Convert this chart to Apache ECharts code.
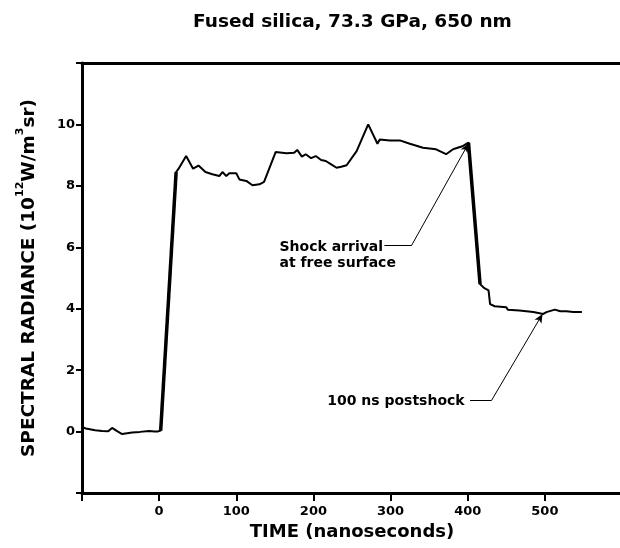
<!DOCTYPE html>
<html>
<head>
<meta charset="utf-8">
<script src="https://cdn.jsdelivr.net/npm/echarts@6/dist/echarts.min.js"></script>
<style>
html,body{margin:0;padding:0;background:#fff;}
#chart{width:620px;height:548px;}
</style>
</head>
<body>
<div id="chart"></div>
<script>
// ---- data ----
var times = [-100, -95, -83, -74, -66, -61, -55, -48, -35, -25, -13, -6, -2, 2,
  22, 25, 35, 44, 51, 60, 69, 78, 82, 87, 91, 100, 104, 113, 121, 130, 136,
  151, 165, 175, 179, 185, 190, 197, 203, 210, 216, 223, 230, 236, 243, 256,
  271, 283, 286, 299, 312, 325, 342, 359, 372, 381, 394, 401,
  416, 421, 427, 429, 435, 450, 452, 467, 485, 498, 502, 513, 520, 528, 537, 548];
var radiance = [0.15, 0.10, 0.04, 0.02, 0.01, 0.12, 0.02, -0.08, -0.03, -0.01, 0.02, 0.00, 0.00, 0.03,
  8.45, 8.55, 8.97, 8.56, 8.66, 8.45, 8.38, 8.32, 8.45, 8.32, 8.41, 8.41, 8.21, 8.16, 8.02, 8.05, 8.13,
  9.10, 9.06, 9.08, 9.17, 8.95, 9.03, 8.90, 8.97, 8.84, 8.81, 8.70, 8.59, 8.62, 8.67, 9.13,
  10.0, 9.37, 9.51, 9.48, 9.48, 9.37, 9.24, 9.19, 9.03, 9.19, 9.30, 9.41,
  4.80, 4.68, 4.60, 4.15, 4.08, 4.05, 3.97, 3.94, 3.89, 3.83, 3.89, 3.97, 3.92, 3.92, 3.89, 3.89];

// the fast rise and the fast fall, which are drawn heavier in the original
var riseTimes = [2, 22];
var riseValues = [0.03, 8.45];
var fallTimes = [401, 416];
var fallValues = [9.41, 4.80];

var xTicks = [0, 100, 200, 300, 400, 500];
var yTicks = [0, 2, 4, 6, 8, 10];

var titleText = 'Fused silica, 73.3 GPa, 650 nm';
var xName = 'TIME (nanoseconds)';

// annotations (data coordinates)
var shockText = 'Shock arrival\nat free surface';
var shockLabelAt = [156, 5.74];
var shockLeader = [[292, 6.05], [327, 6.05], [401, 9.38]];
var postText = '100 ns postshock';
var postLabelAt = [396, 0.98];
var postLeader = [[403, 1.02], [431, 1.02], [497, 3.83]];

// ---- chart ----
var FONT = 'DejaVu Sans';
function pairs(xs, ys) { return xs.map(function (t, i) { return [t, ys[i]]; }); }

function leaderLines(p) {
  return [
    [{ coord: p[0], symbol: 'none' }, { coord: p[1], symbol: 'none' }],
    [{ coord: p[1], symbol: 'none' }, { coord: p[2], symbol: 'arrow', symbolSize: [6, 9] }]
  ];
}

var chart = echarts.init(document.getElementById('chart'), null, { renderer: 'canvas' });
chart.setOption({
  animation: false,
  backgroundColor: '#fff',
  title: {
    text: titleText,
    left: 188,
    top: 8,
    textStyle: { fontFamily: FONT, fontWeight: 'bold', fontSize: 18.5, color: '#000' }
  },
  grid: { left: 82, right: -2, top: 63, bottom: 55, containLabel: false, outerBoundsMode: 'none' },
  xAxis: [{
    type: 'value', position: 'bottom',
    min: -100, max: 600, interval: 100,
    name: xName, nameLocation: 'middle', nameGap: 30,
    nameTextStyle: { fontFamily: FONT, fontWeight: 'bold', fontSize: 18, color: '#000' },
    axisLine: { show: true, onZero: false, lineStyle: { color: '#000', width: 3 } },
    axisTick: { show: true, inside: false, length: 8, lineStyle: { color: '#000', width: 2 } },
    axisLabel: {
      margin: 12, fontFamily: FONT, fontWeight: 'bold', fontSize: 13, color: '#000',
      formatter: function (v) { return xTicks.indexOf(v) >= 0 ? String(v) : ''; }
    },
    splitLine: { show: false }
  }, {
    type: 'value', position: 'top',
    min: -100, max: 600, interval: 100,
    axisLine: { show: true, onZero: false, lineStyle: { color: '#000', width: 3 } },
    axisTick: { show: false }, axisLabel: { show: false }, splitLine: { show: false }
  }],
  yAxis: {
    type: 'value',
    min: -2, max: 12, interval: 2,
    name: '{a|SPECTRAL RADIANCE (10}{s|12}{a|W/m}{s|3}{a|sr)}',
    nameLocation: 'middle', nameGap: 43, nameRotate: 90,
    nameTextStyle: {
      fontFamily: FONT, fontWeight: 'bold', fontSize: 18, color: '#000',
      rich: {
        a: { fontFamily: FONT, fontWeight: 'bold', fontSize: 18.5, color: '#000', lineHeight: 24, verticalAlign: 'bottom' },
        s: { fontFamily: FONT, fontWeight: 'bold', fontSize: 11, color: '#000', lineHeight: 24, verticalAlign: 'top' }
      }
    },
    axisLine: { show: true, onZero: false, lineStyle: { color: '#000', width: 3 } },
    axisTick: { show: true, inside: false, length: 6, lineStyle: { color: '#000', width: 2 } },
    axisLabel: {
      margin: 7, fontFamily: FONT, fontWeight: 'bold', fontSize: 13, color: '#000',
      formatter: function (v) { return yTicks.indexOf(v) >= 0 ? String(v) : ''; }
    },
    splitLine: { show: false }
  },
  series: [{
    type: 'line',
    data: pairs(times, radiance),
    showSymbol: false,
    symbol: 'none',
    lineStyle: { color: '#000', width: 2 },
    silent: true
  }, {
    type: 'line',
    data: pairs(riseTimes, riseValues),
    showSymbol: false, symbol: 'none',
    lineStyle: { color: '#000', width: 3.5 },
    silent: true
  }, {
    type: 'line',
    data: pairs(fallTimes, fallValues),
    showSymbol: false, symbol: 'none',
    lineStyle: { color: '#000', width: 3.5 },
    silent: true
  }, {
    type: 'scatter',
    data: [shockLabelAt],
    symbolSize: 0,
    silent: true,
    itemStyle: { color: '#000', opacity: 1 },
    label: {
      show: true, position: 'right', distance: 0, align: 'left',
      formatter: shockText, lineHeight: 16, opacity: 1, textBorderWidth: 0,
      fontFamily: FONT, fontWeight: 'bold', fontSize: 14, color: '#000'
    },
    markLine: {
      silent: true, animation: false,
      lineStyle: { color: '#000', width: 1, type: 'solid' },
      label: { show: false },
      emphasis: { disabled: true },
      data: leaderLines(shockLeader)
    }
  }, {
    type: 'scatter',
    data: [postLabelAt],
    symbolSize: 0,
    silent: true,
    itemStyle: { color: '#000', opacity: 1 },
    label: {
      show: true, position: 'left', distance: 0, align: 'right',
      formatter: postText, opacity: 1, textBorderWidth: 0,
      fontFamily: FONT, fontWeight: 'bold', fontSize: 14, color: '#000'
    },
    markLine: {
      silent: true, animation: false,
      lineStyle: { color: '#000', width: 1, type: 'solid' },
      label: { show: false },
      emphasis: { disabled: true },
      data: leaderLines(postLeader)
    }
  }]
});
</script>
</body>
</html>
